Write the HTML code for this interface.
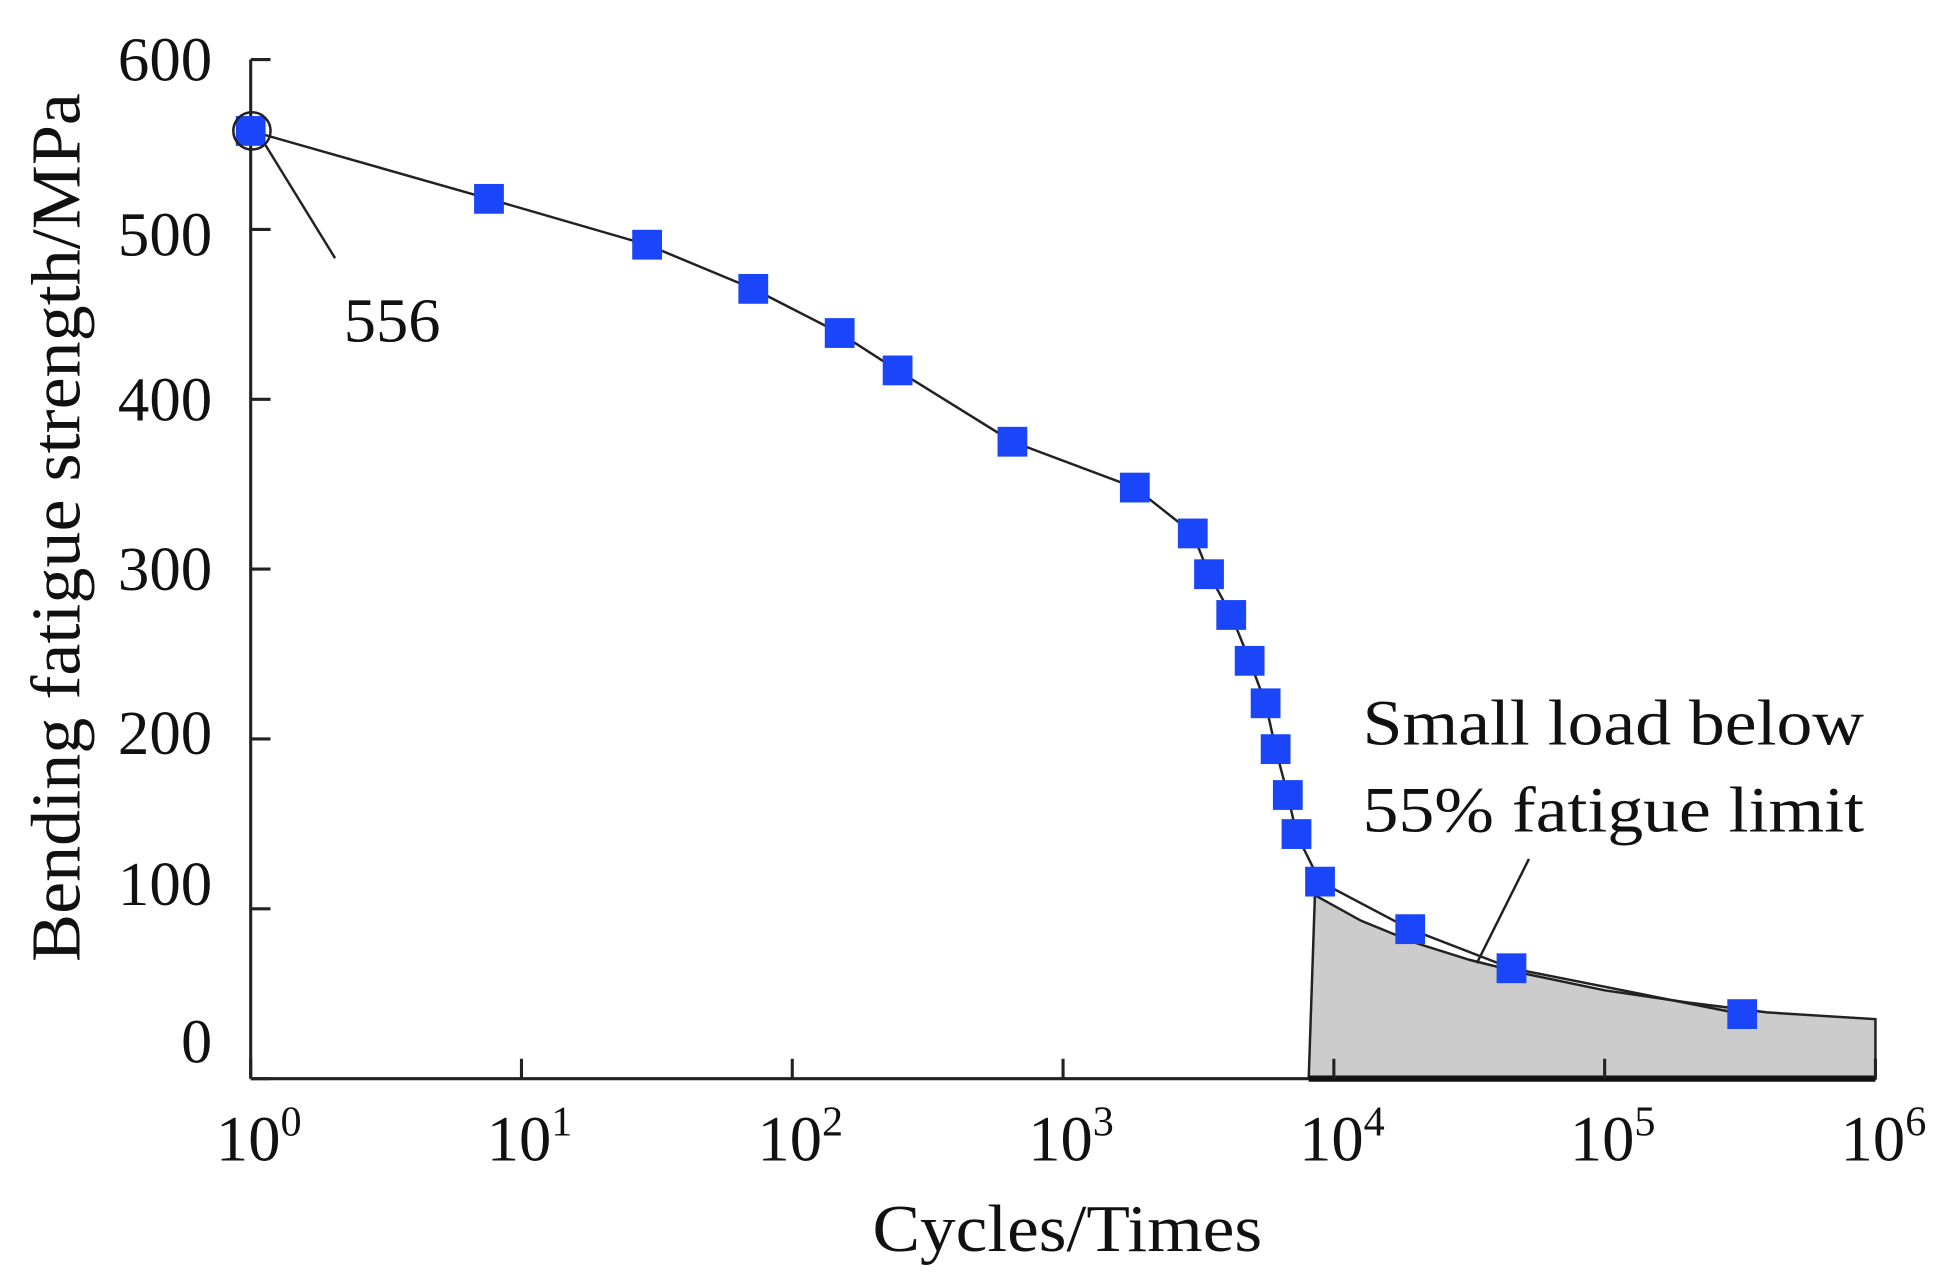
<!DOCTYPE html>
<html><head><meta charset="utf-8"><style>
html,body{margin:0;padding:0;background:#fff;}
svg{display:block;font-family:"Liberation Serif",serif;}
</style></head><body>
<svg id="chart" width="1936" height="1276" viewBox="0 0 1560 1028" preserveAspectRatio="none" xmlns="http://www.w3.org/2000/svg">
<g id="g"></g>
</svg>
<script>
const logCycles=[0,0.88,1.464,1.856,2.175,2.389,2.813,3.265,3.479,3.539,3.621,3.689,3.748,3.785,3.830,3.862,3.949,4.282,4.656,5.508];
const strength=[558,518,491,465,439,417,375,348,321,297,273,246,221,194,167,144,116,88,65,38];
const curveLog=[3.93,4.1,4.3,4.5,4.7,5.0,5.3,5.6,6.0];
const curveVal=[108,93,80,70,62,52,45,39,35];
const yTicks=[0,100,200,300,400,500,600];
const xTicks=[0,1,2,3,4,5,6];
const NS="http://www.w3.org/2000/svg";
const X0=202,DEC=218.2,Y0=869,YS=821/600;
const xs=v=>X0+v*DEC, ys=v=>Y0-v*YS;
const g=document.getElementById('g');
function mk(t,a,p){const e=document.createElementNS(NS,t);for(const k in a)e.setAttribute(k,a[k]);(p||g).appendChild(e);return e;}
let d=`M${xs(3.93)-5},${Y0} L${xs(curveLog[0])},${ys(curveVal[0])}`;
curveLog.forEach((c,i)=>{d+=` L${xs(c)},${ys(curveVal[i])}`});
d+=` L${xs(6)},${Y0} Z`;
const area=mk('path',{d:d,fill:'#cccccc',stroke:'#222','stroke-width':2});


const ya=mk('line',{x1:X0,y1:48,x2:X0,y2:Y0,stroke:'#222','stroke-width':2.5});


const xa=mk('line',{x1:X0,y1:Y0,x2:xs(6),y2:Y0,stroke:'#222','stroke-width':2.5});


mk('line',{x1:xs(3.93)-5,y1:Y0,x2:xs(6),y2:Y0,stroke:'#111','stroke-width':5});
yTicks.forEach(v=>{
  const t=mk('line',{x1:X0,y1:ys(v),x2:X0+16,y2:ys(v),stroke:'#222','stroke-width':2.5});
  
  
  const nudge=v===0?-30:(v===100?-20:(v===200?-5:(v===500?4:0)));
  const l=mk('text',{x:171,y:ys(v)+nudge+17,'font-size':50,'text-anchor':'end',fill:'#111',textLength:(v===0?25:76),lengthAdjust:'spacingAndGlyphs'});
  l.textContent=v;
  
  
});
xTicks.forEach(v=>{
  const t=mk('line',{x1:xs(v),y1:Y0,x2:xs(v),y2:Y0-16,stroke:'#222','stroke-width':2.5});
  
  
  const l=mk('text',{x:xs(v)-28,y:935,'font-size':52,fill:'#111'});
  const b=mk('tspan',{},l);b.textContent='10';
  const s=mk('tspan',{dy:-20,'font-size':34},l);s.textContent=v;
  
  
});
const pl=mk('polyline',{points:logCycles.map((c,i)=>xs(c)+','+ys(strength[i])).join(' '),fill:'none',stroke:'#222','stroke-width':2});


logCycles.forEach((c,i)=>{
  const r=mk('rect',{x:xs(c)-12,y:ys(strength[i])-12,width:24,height:24,fill:'#1a45f8'});
  
  
});
const c=mk('circle',{cx:xs(0)+1,cy:ys(strength[0]),r:15,fill:'none',stroke:'#222','stroke-width':2});


mk('line',{x1:214,y1:117,x2:270,y2:208,stroke:'#222','stroke-width':2});
const a1=mk('text',{x:277,y:275,'font-size':50,fill:'#111',textLength:78,lengthAdjust:'spacingAndGlyphs'});a1.textContent='556';


const a2=mk('text',{x:1098,y:600,'font-size':52,fill:'#111',textLength:404,lengthAdjust:'spacingAndGlyphs'});a2.textContent='Small load below';


const a3=mk('text',{x:1098,y:670,'font-size':52,fill:'#111',textLength:404,lengthAdjust:'spacingAndGlyphs'});a3.textContent='55% fatigue limit';


mk('line',{x1:1232,y1:692,x2:1190,y2:776,stroke:'#222','stroke-width':2});
const xt=mk('text',{x:703,y:1008,'font-size':54,fill:'#111',textLength:314,lengthAdjust:'spacingAndGlyphs'});xt.textContent='Cycles/Times';


const yt=mk('text',{x:0,y:0,'font-size':56,'text-anchor':'middle',fill:'#111',transform:'translate(64,425) rotate(-90)',textLength:700,lengthAdjust:'spacingAndGlyphs'});yt.textContent='Bending fatigue strength/MPa';


</script>
</body></html>
